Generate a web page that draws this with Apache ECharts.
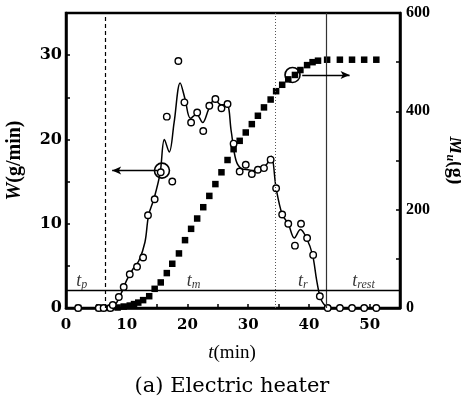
<!DOCTYPE html>
<html><head><meta charset="utf-8">
<script src="https://cdn.jsdelivr.net/npm/echarts@6/dist/echarts.min.js"></script>
<style>html,body{margin:0;padding:0;background:#fff}#c{width:461px;height:403px}</style>
</head><body><div id="c"></div>
<script>
// ---- data ----
const xTicks = [0, 10, 20, 30, 40, 50];
const wTicks = [0, 10, 20, 30];
const mTicks = [0, 200, 400, 600];

// measured W (open circles), t in min, W in g/min
const tW = [2, 5.4, 6.2, 7.3, 7.7, 8.7, 9.5, 10.5, 11.7, 12.7, 13.5, 14.6, 15.6, 16.6, 17.5, 18.5, 19.5, 20.6, 21.6, 22.6, 23.6, 24.6, 25.6, 26.6, 27.6, 28.6, 29.6, 30.6, 31.6, 32.6, 33.7, 34.6, 35.6, 36.6, 37.7, 38.7, 39.7, 40.7, 41.8, 43.1, 45.1, 47.1, 49.1, 51.1];
const W  = [0, 0, 0, 0, 0.35, 1.3, 2.5, 4.0, 4.9, 6.0, 11.0, 12.9, 16.1, 22.7, 15.0, 29.3, 24.4, 22.0, 23.2, 21.0, 24.0, 24.8, 23.7, 24.2, 19.5, 16.2, 17.0, 15.9, 16.4, 16.6, 17.6, 14.2, 11.1, 10.0, 7.4, 10.0, 8.3, 6.3, 1.4, 0, 0, 0, 0, 0];

// fitted W curve (solid line)
const tCurve = [7, 8, 9, 10, 11, 12, 13, 13.6, 14.5, 15.5, 16.2, 17.0, 17.8, 18.8, 19.6, 20.5, 21.5, 22.5, 23.5, 24.5, 25.5, 26.5, 27.2, 28.0, 29.0, 30.0, 31.0, 32.0, 33.0, 33.8, 34.6, 35.6, 36.6, 37.6, 38.6, 39.6, 40.6, 41.3, 42.0, 43.0];
const Wcurve = [0, 0.3, 1.6, 3.3, 4.6, 5.6, 7.8, 11.0, 13.0, 16.0, 20.0, 18.5, 22.0, 26.7, 24.8, 22.5, 23.0, 22.0, 23.6, 24.8, 24.1, 24.1, 21.0, 17.5, 16.5, 16.4, 16.3, 16.7, 17.0, 18.0, 14.2, 11.1, 10.0, 8.3, 9.3, 8.3, 6.3, 3.2, 1.0, 0];

// cumulative M_u (filled squares), g
const tM = [2, 5.4, 6.2, 7.3, 8.5, 9.5, 10.5, 11.2, 11.9, 12.7, 13.7, 14.6, 15.6, 16.6, 17.5, 18.6, 19.6, 20.6, 21.6, 22.6, 23.6, 24.6, 25.6, 26.6, 27.6, 28.6, 29.6, 30.6, 31.6, 32.6, 33.7, 34.6, 35.6, 36.6, 37.7, 38.6, 39.7, 40.6, 41.5, 43.0, 45.1, 47.1, 49.1, 51.1];
const M  = [0, 0, 0, 0, 1, 3, 5, 8, 11, 16, 24, 39, 52, 71, 90, 111, 138, 161, 182, 205, 228, 252, 276, 301, 323, 340, 357, 374, 391, 408, 424, 441, 454, 465, 474, 484, 494, 500, 503, 505, 505, 505, 505, 505];

// phase boundaries and annotations
const phaseT = [6.4, 34.4, 42.9];
const thresholdW = 2.05;
const phaseLabels = [['p', 2.6], ['m', 21], ['r', 39], ['rest', 49]];
const markW = [15.8, 16.3];      // circled W point
const markM = [37.3, 474];       // circled M point
const arrowW = [15.0, 7.6];      // arrow from, to (t)
const arrowM = [38.9, 46.7];

const serif = '"Liberation Serif", "DejaVu Serif", serif';
const dserif = '"DejaVu Serif", serif';
const chart = echarts.init(document.getElementById('c'), null, {renderer: 'canvas'});
const tickStyle = {show: true, inside: true, length: 4, lineStyle: {color: '#000', width: 1.5}};
const axLine = {show: true, lineStyle: {color: '#000', width: 2.5}};

chart.setOption({
  animation: false,
  backgroundColor: '#fff',
  grid: {left: 66, right: 61, top: 13, bottom: 95, show: true, borderColor: '#000', borderWidth: 2.5,
         containLabel: false, outerBoundsMode: 'none'},
  xAxis: {
    type: 'value', min: 0, max: 55, interval: 5,
    axisLine: axLine, axisTick: tickStyle, splitLine: {show: false},
    axisLabel: {margin: 10, color: '#000', fontFamily: dserif, fontWeight: 'bold', fontSize: 15,
      formatter: v => xTicks.includes(v) ? String(v) : ''}
  },
  yAxis: [{
    type: 'value', min: 0, max: 35, interval: 5,
    axisLine: axLine, axisTick: tickStyle, splitLine: {show: false},
    axisLabel: {margin: 4, color: '#000', fontFamily: dserif, fontWeight: 'bold', fontSize: 16,
      formatter: v => wTicks.includes(v) ? String(v) : ''},
    name: '{i|W}{n|(g/min)}', nameLocation: 'middle', nameRotate: 90, nameGap: 41,
    nameTextStyle: {rich: {i: {fontFamily: serif, fontStyle: 'italic', fontWeight: 'bold', fontSize: 20, color: '#000'},
                           n: {fontFamily: serif, fontWeight: 'bold', fontSize: 20, color: '#000'}}}
  }, {
    type: 'value', min: 0, max: 600, interval: 100, position: 'right',
    axisLine: axLine, axisTick: tickStyle, splitLine: {show: false},
    axisLabel: {margin: 6, color: '#000', fontFamily: serif, fontWeight: 'bold', fontSize: 16,
      formatter: v => mTicks.includes(v) ? String(v) : ''},
    name: '{i|M}{s|u}{n|(g)}', nameLocation: 'middle', nameRotate: -90, nameGap: 44,
    nameTextStyle: {rich: {i: {fontFamily: serif, fontStyle: 'italic', fontWeight: 'bold', fontSize: 20, color: '#000', lineHeight: 22},
                           s: {fontFamily: serif, fontStyle: 'italic', fontWeight: 'bold', fontSize: 12, color: '#000', verticalAlign: 'bottom'},
                           n: {fontFamily: serif, fontWeight: 'bold', fontSize: 20, color: '#000', lineHeight: 22}}}
  }],
  graphic: [
    {type: 'text', x: 232, y: 353, style: {align: 'center', verticalAlign: 'middle', text: '{i|t}{n|(min)}',
      rich: {i: {fontFamily: serif, fontStyle: 'italic', fontSize: 19, fill: '#000'}, n: {fontFamily: serif, fontSize: 19, fill: '#000'}}}},
    {type: 'text', x: 232, y: 387, style: {align: 'center', verticalAlign: 'middle', text: '(a) Electric heater',
      fontFamily: dserif, fontSize: 21, fill: '#000'}}
  ],
  series: [
    {
      type: 'line', smooth: 0.35, showSymbol: false, yAxisIndex: 0,
      data: tCurve.map((t, i) => [t, Wcurve[i]]),
      lineStyle: {color: '#000', width: 1.5}, z: 2,
      markLine: {
        silent: true, symbol: ['none', 'none'], label: {show: false},
        data: [
          {xAxis: phaseT[0], lineStyle: {type: [4, 3], color: '#000', width: 1.2}},
          {xAxis: phaseT[1], lineStyle: {type: [1, 2], color: '#555', width: 1}},
          {xAxis: phaseT[2], lineStyle: {type: 'solid', color: '#333', width: 1.2}},
          {yAxis: thresholdW, lineStyle: {type: 'solid', color: '#000', width: 1.4}}
        ]
      }
    },
    {
      type: 'scatter', yAxisIndex: 0, symbol: 'circle', symbolSize: 6.5,
      data: tW.map((t, i) => [t, W[i]]),
      itemStyle: {color: '#fff', borderColor: '#000', borderWidth: 1.4, opacity: 1}, z: 4
    },
    {
      type: 'scatter', yAxisIndex: 1, symbol: 'rect', symbolSize: 6.5,
      data: tM.map((t, i) => [t, M[i]]),
      itemStyle: {color: '#000', opacity: 1}, z: 3
    },
    {
      type: 'scatter', yAxisIndex: 0, symbol: 'circle', symbolSize: 15,
      data: [markW], itemStyle: {color: 'rgba(0,0,0,0)', borderColor: '#000', borderWidth: 1.6, opacity: 1}, z: 5,
      markLine: {silent: true, symbol: ['none', 'arrow'], symbolSize: [6, 9], label: {show: false},
        lineStyle: {type: 'solid', color: '#000', width: 1.3},
        data: [[{coord: [arrowW[0], markW[1]]}, {coord: [arrowW[1], markW[1]]}]]}
    },
    {
      type: 'scatter', yAxisIndex: 1, symbol: 'circle', symbolSize: 15,
      data: [markM], itemStyle: {color: 'rgba(0,0,0,0)', borderColor: '#000', borderWidth: 1.6, opacity: 1}, z: 5,
      markLine: {silent: true, symbol: ['none', 'arrow'], symbolSize: [6, 9], label: {show: false},
        lineStyle: {type: 'solid', color: '#000', width: 1.3},
        data: [[{coord: [arrowM[0], markM[1]]}, {coord: [arrowM[1], markM[1]]}]]}
    },
    {
      type: 'scatter', yAxisIndex: 0, symbolSize: 0, silent: true,
      data: phaseLabels.map(p => ({value: [p[1], 3.2], sub: p[0]})),
      label: {show: true, position: 'inside',
        formatter: p => '{i|t}{s|' + p.data.sub + '}',
        rich: {i: {fontFamily: serif, fontStyle: 'italic', fontSize: 18, color: '#000', lineHeight: 20},
               s: {fontFamily: serif, fontStyle: 'italic', fontSize: 12, color: '#000', verticalAlign: 'bottom'}}}
    }
  ]
});
</script></body></html>
